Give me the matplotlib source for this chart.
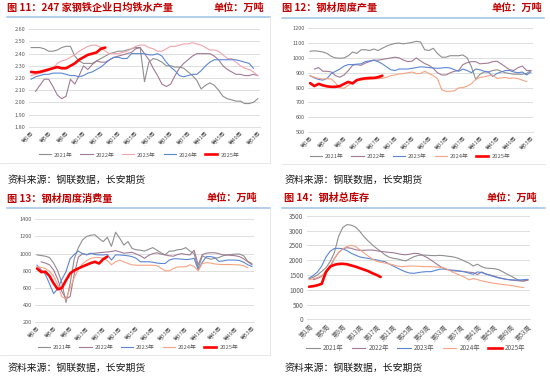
import matplotlib
matplotlib.use("Agg")
import matplotlib.pyplot as plt
from matplotlib.lines import Line2D
import matplotlib.ticker as ticker
import numpy as np

plt.rcParams['font.family'] = ['Noto Sans CJK SC', 'DejaVu Sans']

W, H = 550, 378

YEARS = ["2021年", "2022年", "2023年", "2024年", "2025年"]
TICK_WEEKS = list(range(1, 54, 4))
TICK_LABELS = [f"第{w}周" for w in TICK_WEEKS]

# 图11 247家钢铁企业日均铁水产量
HOT_2021 = [2.45, 2.45, 2.45, 2.44, 2.42, 2.42, 2.43, 2.45, 2.46, 2.46, 2.38, 2.34, 2.32, 2.32, 2.32,
            2.34, 2.36, 2.38, 2.40, 2.41, 2.42, 2.42, 2.43, 2.44, 2.45, 2.45, 2.17, 2.33, 2.36, 2.35,
            2.33, 2.30, 2.30, 2.29, 2.29, 2.28, 2.25, 2.22, 2.18, 2.11, 2.14, 2.16, 2.14, 2.10, 2.05,
            2.03, 2.02, 2.01, 2.01, 1.99, 1.99, 2.00, 2.03]
HOT_2022 = [None, 2.09, 2.14, 2.19, 2.19, 2.13, 2.06, 2.03, 2.05, 2.19, 2.15, 2.22, 2.30, 2.27, 2.31,
            2.34, 2.33, 2.33, 2.35, 2.37, 2.38, 2.39, 2.40, 2.41, 2.44, 2.45, 2.40, 2.35, 2.28, 2.22,
            2.15, 2.13, 2.15, 2.22, 2.28, 2.32, 2.35, 2.38, 2.40, 2.40, 2.40, 2.40, 2.38, 2.35, 2.30,
            2.27, 2.25, 2.23, 2.23, 2.22, 2.22, 2.23, 2.22]
HOT_2023 = [2.22, 2.23, 2.24, 2.25, 2.26, 2.28, 2.32, 2.34, 2.35, 2.37, 2.39, 2.42, 2.44, 2.46, 2.47,
            2.47, 2.45, 2.42, 2.40, 2.40, 2.40, 2.41, 2.42, 2.44, 2.46, 2.47, 2.47, 2.45, 2.44, 2.42,
            2.42, 2.44, 2.46, 2.46, 2.47, 2.48, 2.48, 2.49, 2.48, 2.47, 2.45, 2.43, 2.43, 2.42, 2.39,
            2.36, 2.36, 2.33, 2.30, 2.28, 2.27, 2.25, 2.22]
HOT_2024 = [2.19, 2.21, 2.22, 2.23, 2.23, 2.24, 2.24, 2.24, 2.23, 2.22, 2.22, 2.21, 2.22, 2.24, 2.25,
            2.27, 2.29, 2.32, 2.35, 2.37, 2.37, 2.36, 2.36, 2.40, 2.40, 2.40, 2.40, 2.39, 2.39, 2.40,
            2.38, 2.33, 2.29, 2.26, 2.22, 2.21, 2.22, 2.23, 2.23, 2.26, 2.30, 2.33, 2.35, 2.35, 2.35,
            2.35, 2.35, 2.35, 2.34, 2.33, 2.32, 2.28]
HOT_2025 = [2.25, 2.245, 2.25, 2.26, 2.27, 2.28, 2.29, 2.28, 2.28, 2.30, 2.32, 2.35, 2.37, 2.39,
            2.40, 2.41, 2.44, 2.45]

# 图12 钢材周度产量
PROD_2021 = [1045, 1048, 1045, 1040, 1030, 1010, 1000, 998, 1000, 1015, 1040, 1030, 1055, 1055, 1050,
             1060, 1050, 1065, 1080, 1090, 1098, 1100, 1095, 1100, 1105, 1112, 1108, 1055, 1050, 1065,
             1030, 1005, 1005, 1015, 1015, 1015, 1020, 1000, 940, 855, 890, 905, 905, 915, 920,
             910, 900, 895, 890, 890, 890, 895, 915]
PROD_2022 = [None, 925, 935, 910, 910, 905, 880, 870, 885, 915, 950, 955, 950, 965, 975,
             985, 985, 990, 995, 1000, 1005, 1000, 985, 975, 978, 1000, 980, 962, 950, 930,
             900, 885, 885, 900, 910, 915, 955, 968, 975, 975, 960, 963, 965, 975, 978,
             960, 940, 920, 915, 935, 945, 915, 915]
PROD_2023 = [880, 865, 855, 850, 862, 895, 910, 925, 945, 955, 955, 958, 960, 975, 980,
             985, 975, 960, 940, 920, 915, 925, 925, 925, 930, 935, 940, 938, 935, 932,
             930, 932, 935, 932, 920, 910, 925, 915, 900, 925, 920, 910, 905, 875, 895,
             905, 915, 915, 905, 900, 905, 885, 905]
PROD_2024 = [880, 870, 862, 858, 860, 858, 830, 798, 795, 815, 835, 848, 850, 853, 855,
             858, 860, 862, 870, 880, 885, 892, 895, 900, 905, 895, 895, 910, 895, 880,
             860, 785, 775, 775, 778, 798, 800, 810, 825, 855, 868, 872, 880, 885, 862,
             865, 868, 862, 865, 860, 850, 840]
PROD_2025 = [830, 810, 825, 815, 808, 805, 805, 810, 825, 838, 828, 850, 858, 862, 865, 865, 870, 880]

# 图13 钢材周度消费量
CONS_2021 = [985, 978, 970, 955, 890, 800, 660, 430, 650, 940, 1070, 1160, 1200, 1215, 1220,
             1175, 1140, 1190, 1085, 1250, 1180, 1100, 1140, 1060, 1045, 1040, 1030, 1050, 1070, 1040,
             1010, 985, 1030, 1030, 1045, 1050, 1070, 1030, 1000, 830, 975, 950, 935, 945, 955,
             975, 985, 990, 995, 995, 975, 910, 885]
CONS_2022 = [None, 905, 890, 870, 810, 700, 560, 475, 500, 760, 960, 1000, 990, 1000, 1005,
             1010, 1015, 1020, 1025, 1035, 1020, 1005, 1010, 1015, 995, 975, 945, 980, 1000, 1010,
             995, 985, 975, 970, 990, 1000, 990, 985, 1040, 870, 990, 1005, 1010, 1010, 1000,
             985, 985, 980, 975, 965, 940, 905, 870]
CONS_2023 = [865, 810, 760, 650, 535, 590, 700, 790, 940, 990, 1030, 1000, 985, 1005, 990,
             985, 985, 990, 925, 985, 985, 980, 975, 965, 945, 905, 905, 905, 900, 890,
             885, 885, 925, 940, 940, 935, 930, 935, 945, 810, 900, 965, 965, 955, 910,
             915, 925, 925, 925, 920, 900, 870, 850]
CONS_2024 = [848, 840, 827, 795, 740, 640, 500, 470, 600, 720, 820, 880, 920, 945, 955,
             955, 945, 920, 870, 905, 925, 905, 885, 870, 865, 865, 865, 865, 865, 860,
             830, 800, 800, 828, 845, 846, 846, 870, 850, 800, 885, 895, 890, 880, 875,
             873, 873, 873, 870, 868, 860, 835]
CONS_2025 = [827, 785, 790, 740, 655, 585, 600, 690, 770, 805, 828, 850, 870, 890, 905, 885, 935, 965]

# 图14 钢材总库存
STOCK_2021 = [1370, 1420, 1500, 1620, 1740, 1950, 2250, 2800, 3100, 3200, 3180, 3120, 2980, 2800, 2650,
              2520, 2400, 2300, 2180, 2100, 2060, 2040, 2000, 1975, 2050, 2120, 2160, 2170, 2165, 2155,
              2150, 2160, 2150, 2130, 2115, 2080, 2030, 1960, 1900, 1800, 1860, 1780, 1730, 1720, 1710,
              1680, 1610, 1530, 1460, 1380, 1310, 1300, 1330]
STOCK_2022 = [None, 1340, 1380, 1450, 1560, 1800, 2050, 2250, 2380, 2420, 2400, 2350, 2330, 2330, 2340,
              2340, 2320, 2290, 2280, 2260, 2250, 2220, 2190, 2180, 2200, 2230, 2220, 2160, 2090, 2000,
              1900, 1800, 1720, 1670, 1640, 1630, 1620, 1610, 1590, 1580, 1510, 1600, 1530, 1500, 1460,
              1410, 1380, 1350, 1330, 1310, 1300, 1290, 1320]
STOCK_2023 = [1390, 1480, 1600, 1800, 2100, 2300, 2390, 2400, 2380, 2320, 2230, 2170, 2110, 2080, 2060,
              2030, 2010, 1970, 1950, 1870, 1800, 1730, 1660, 1600, 1560, 1555, 1580, 1600, 1610, 1610,
              1650, 1690, 1700, 1680, 1660, 1650, 1630, 1600, 1560, 1520, 1600, 1580, 1530, 1480, 1440,
              1400, 1370, 1345, 1330, 1330, 1330, 1340, 1350]
STOCK_2024 = [1340, 1370, 1410, 1480, 1600, 1720, 2050, 2250, 2380, 2460, 2500, 2460, 2360, 2250, 2140,
              2040, 1960, 1930, 1900, 1870, 1840, 1800, 1780, 1790, 1800, 1800, 1790, 1780, 1780, 1780,
              1770, 1760, 1740, 1680, 1600, 1540, 1480, 1420, 1330, 1380, 1340, 1300, 1270, 1240, 1220,
              1195, 1175, 1160, 1140, 1120, 1090, 1075]
STOCK_2025 = [1100, 1120, 1150, 1200, 1600, 1780, 1840, 1870, 1875, 1860, 1820, 1780, 1730, 1680, 1630,
              1560, 1500, 1430]

GRAY = "#8f8f8f"
MAUVE = "#a27a95"
PINK = "#f3a3ad"
BLUE = "#5b86d6"
SALMON = "#f8a383"
RED = "#ff0000"
TITLE_RED = "#c00000"
TXT = "#595959"


def px_axes(fig, left, top, right, bottom):
    return fig.add_axes([left / W, 1 - bottom / H, (right - left) / W, (bottom - top) / H])


def fig_text(fig, x, y, s, **kw):
    fig.text(x / W, 1 - y / H, s, **kw)


def fig_line(fig, x0, y0, x1, y1, color, lw):
    fig.add_artist(Line2D([x0 / W, x1 / W], [1 - y0 / H, 1 - y1 / H],
                          color=color, lw=lw, transform=fig.transFigure))


def draw_panel(fig, box, series, colors, ylim, ystep, yfmt, fs=4.0):
    ax = px_axes(fig, *box)
    for vals, c in zip(series, colors):
        y = np.array(vals, dtype=float)
        x = np.arange(1, len(y) + 1)
        if c == RED:
            ax.plot(x, y, color=c, lw=1.9, zorder=4, solid_capstyle="round")
        else:
            ax.plot(x, y, color=c, lw=0.8, zorder=3)
    ax.set_xlim(0.5, 53.5)
    ax.set_ylim(*ylim)
    ax.set_yticks(np.arange(ylim[0], ylim[1] + ystep / 2, ystep))
    ax.yaxis.set_major_formatter(ticker.FormatStrFormatter(yfmt))
    ax.set_xticks(TICK_WEEKS)
    ax.set_xticklabels(TICK_LABELS, rotation=45, ha="right", va="top",
                       rotation_mode="anchor")
    ax.tick_params(length=0, labelsize=fs, colors=TXT, pad=2.5)
    ax.grid(axis="y", color="#d9d9d9", lw=0.6, zorder=0)
    for s in ax.spines.values():
        s.set_visible(False)
    ax.spines["bottom"].set_visible(True)
    ax.spines["bottom"].set_color("#d9d9d9")
    ax.spines["bottom"].set_linewidth(0.6)
    return ax


def add_legend(fig, colors, cx, cy, fs=4.2):
    handles = [Line2D([], [], color=c, lw=1.9 if c == RED else 0.8) for c in colors]
    leg = fig.legend(handles, YEARS, loc="center", bbox_to_anchor=(cx / W, 1 - cy / H),
                     ncol=5, frameon=False, fontsize=fs, handlelength=2.1,
                     handletextpad=0.5, columnspacing=1.3, borderaxespad=0, borderpad=0)
    for t in leg.get_texts():
        t.set_color(TXT)


def add_header(fig, x, y, title, unit_right, sep_x0, sep_x1, sep_y):
    fig_text(fig, x, y, title, color=TITLE_RED, fontsize=7.3, fontweight="bold",
             ha="left", va="center")
    fig_text(fig, unit_right, y, "单位：万吨", color=TITLE_RED, fontsize=7.3,
             fontweight="bold", ha="right", va="center")
    fig_line(fig, sep_x0, sep_y, sep_x1, sep_y, "#9dc3e6", 1.1)


def add_source(fig, x, y):
    fig_text(fig, x, y, "资料来源：钢联数据，长安期货", color="#1a1a1a", fontsize=7.1,
             ha="left", va="center")


fig = plt.figure(figsize=(W / 100, H / 100), dpi=100)
fig.patch.set_facecolor("white")

# panel 11
add_header(fig, 7, 8, "图 11：247 家钢铁企业日均铁水产量", 264, 7, 270, 17)
draw_panel(fig, (29, 29.3, 260, 126.7),
           [HOT_2021, HOT_2022, HOT_2023, HOT_2024, HOT_2025],
           [GRAY, MAUVE, PINK, BLUE, RED], (1.80, 2.60), 0.10, "%.2f")
add_legend(fig, [GRAY, MAUVE, PINK, BLUE, RED], 139, 155)
add_source(fig, 8, 180)
fig_line(fig, 0, 163, 270, 163, "#e3e3e3", 0.6)
fig_line(fig, 270, 17, 270, 163, "#e3e3e3", 0.6)

# panel 12
add_header(fig, 282, 8, "图 12：钢材周度产量", 542, 282, 544, 17.5)
draw_panel(fig, (308, 28.3, 533, 132),
           [PROD_2021, PROD_2022, PROD_2023, PROD_2024, PROD_2025],
           [GRAY, MAUVE, BLUE, SALMON, RED], (500, 1200), 100, "%d")
add_legend(fig, [GRAY, MAUVE, BLUE, SALMON, RED], 410, 156)
add_source(fig, 285, 180)
fig_line(fig, 282, 164, 545, 164, "#e3e3e3", 0.6)

# panel 13
add_header(fig, 7, 198.3, "图 13：钢材周度消费量", 257, 7, 270, 208.3)
draw_panel(fig, (35, 219.3, 254, 322.3),
           [CONS_2021, CONS_2022, CONS_2023, CONS_2024, CONS_2025],
           [GRAY, MAUVE, BLUE, SALMON, RED], (200, 1400), 200, "%d")
add_legend(fig, [GRAY, MAUVE, BLUE, SALMON, RED], 138, 347.7)
add_source(fig, 8, 367.7)
fig_line(fig, 0, 355, 270, 355, "#e3e3e3", 0.6)
fig_line(fig, 270, 208, 270, 355, "#e3e3e3", 0.6)

# panel 14
add_header(fig, 284, 198, "图 14：钢材总库存", 537, 282, 545, 207.7)
draw_panel(fig, (307, 215.7, 530, 319.3),
           [STOCK_2021, STOCK_2022, STOCK_2023, STOCK_2024, STOCK_2025],
           [GRAY, MAUVE, BLUE, SALMON, RED], (0, 3500), 500, "%d", fs=4.6)
add_legend(fig, [GRAY, MAUVE, BLUE, SALMON, RED], 416, 348, fs=4.6)
add_source(fig, 285, 367.7)

fig.savefig("out.png", dpi=100, facecolor="white")
